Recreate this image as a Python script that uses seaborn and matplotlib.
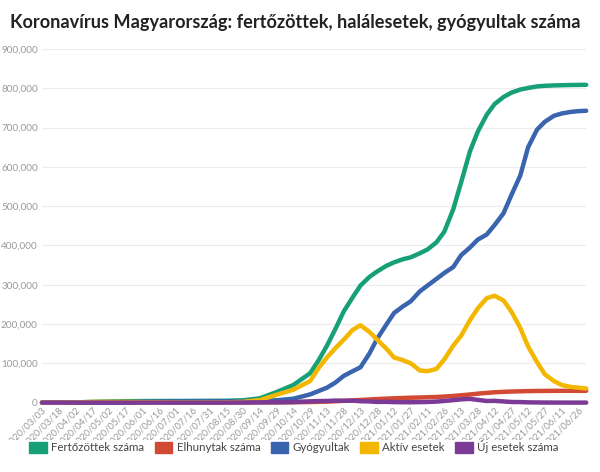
import pandas as pd
import seaborn as sns
import matplotlib.pyplot as plt
import matplotlib.ticker as mticker
from matplotlib.patches import Patch
from matplotlib.transforms import Bbox, TransformedBbox

# Dates (irregular spacing, denser in the busy period)
dates = ["2020-03-03", "2020-03-18", "2020-04-02", "2020-04-17", "2020-05-02", "2020-05-17",
         "2020-06-01", "2020-06-16", "2020-07-01", "2020-07-16", "2020-07-31", "2020-08-15",
         "2020-08-30", "2020-09-14", "2020-09-29", "2020-10-14", "2020-10-29", "2020-11-06",
         "2020-11-13", "2020-11-21", "2020-11-28", "2020-12-06", "2020-12-13", "2020-12-21",
         "2020-12-28", "2021-01-05", "2021-01-12", "2021-01-20", "2021-01-27", "2021-02-04",
         "2021-02-11", "2021-02-19", "2021-02-26", "2021-03-06", "2021-03-13", "2021-03-21",
         "2021-03-28", "2021-04-05", "2021-04-12", "2021-04-20", "2021-04-27", "2021-05-05",
         "2021-05-12", "2021-05-20", "2021-05-27", "2021-06-04", "2021-06-11", "2021-06-19",
         "2021-06-26", "2021-07-03"]

fertozottek = [0, 50, 600, 1900, 3000, 3600, 3900, 4100, 4200, 4400, 4600, 4800,
               6000, 11000, 27000, 45000, 75000, 110000, 145000, 190000, 232000, 268000,
               298000, 320000, 334000, 348000, 357000, 365000, 370000, 380000, 390000,
               408000, 435000, 492000, 560000, 640000, 690000, 733000, 760000, 778000,
               789000, 797000, 801000, 805000, 806500, 807500, 808000, 808500, 808800, 809000]

elhunytak = [0, 0, 20, 140, 310, 440, 530, 570, 590, 600, 600, 610,
             630, 660, 770, 1000, 1500, 2000, 2600, 3600, 4600, 5700,
             6800, 8000, 9100, 10100, 11000, 11800, 12500, 13100, 13700,
             14400, 15400, 17000, 18700, 20700, 22800, 24800, 26300, 27500,
             28200, 28800, 29300, 29600, 29800, 29900, 30000, 30000, 30000, 30000]

gyogyultak = [0, 0, 30, 200, 600, 1200, 2200, 2700, 2900, 3100, 3300, 3400,
              3600, 4200, 6000, 10000, 21000, 30000, 38000, 52000, 68000, 80000,
              90000, 125000, 163000, 198000, 228000, 245000, 258000, 283000, 298000,
              315000, 330000, 345000, 375000, 395000, 415000, 428000, 452000, 482000,
              528000, 578000, 650000, 695000, 715000, 730000, 736000, 740000, 742000, 743000]

aktiv = [0, 50, 550, 1600, 2000, 1800, 1300, 1000, 700, 600, 650, 800,
         2000, 6500, 20000, 33000, 55000, 90000, 115000, 140000, 160000, 185000,
         197000, 180000, 160000, 138000, 115000, 108000, 100000, 82000, 80000,
         86000, 110000, 145000, 170000, 210000, 240000, 266000, 272000, 260000,
         232000, 190000, 143000, 103000, 72000, 55000, 45000, 40000, 38000, 36000]

uj_esetek = [2, 15, 60, 80, 50, 30, 20, 10, 5, 15, 20, 30,
             290, 720, 900, 1500, 3200, 4000, 4200, 5200, 4500, 5000,
             3500, 3000, 1700, 2000, 1300, 1000, 900, 1300, 1600,
             2600, 4200, 6300, 8300, 9500, 7000, 4100, 4500, 3000,
             1600, 1400, 700, 400, 200, 120, 60, 50, 40, 60]

series_names = ["Fertőzöttek száma", "Elhunytak száma", "Gyógyultak", "Aktív esetek", "Új esetek száma"]
colors = ["#17a077", "#d24a33", "#3a64ae", "#f4b700", "#7b3a96"]

frames = []
for name, vals in zip(series_names, [fertozottek, elhunytak, gyogyultak, aktiv, uj_esetek]):
    frames.append(pd.DataFrame({"datum": pd.to_datetime(dates), "ertek": vals, "sorozat": name}))
df = pd.concat(frames, ignore_index=True)

sns.set_style("white")
plt.rcParams["font.family"] = ["Lato", "DejaVu Sans"]

fig = plt.figure(figsize=(6, 4.72), dpi=100)
ax = fig.add_axes([0.07, 0.147, 0.907, 0.749])

ax.yaxis.grid(True, color="#ececec", linewidth=0.8)
ax.set_axisbelow(True)

sns.lineplot(data=df, x="datum", y="ertek", hue="sorozat", hue_order=series_names,
             palette=colors, linewidth=3.2, ax=ax, legend=False,
             solid_capstyle="round", solid_joinstyle="round", clip_on=False)

# axes limits and ticks
start = pd.Timestamp("2020-03-03")
end = pd.Timestamp("2021-07-03")
ax.set_xlim(start, end)
ax.set_ylim(0, 900000)
ax.set_yticks(range(0, 900001, 100000))
ax.yaxis.set_major_formatter(mticker.FuncFormatter(lambda v, p: f"{int(v):,}"))
tick_dates = pd.date_range(start, end, freq="15D")
ax.set_xticks(tick_dates)
ax.set_xticklabels([d.strftime("%Y/%m/%d") for d in tick_dates], rotation=45,
                   ha="right", rotation_mode="anchor")
ax.tick_params(axis="y", labelsize=7.2, labelcolor="#9a9a9a", length=0, pad=3)
ax.tick_params(axis="x", labelsize=6.9, labelcolor="#9a9a9a", length=0, pad=2)
ax.set_xlabel("")
ax.set_ylabel("")
for s in ax.spines.values():
    s.set_visible(False)

# the date labels are cut off just above the legend, like in the original
label_clip = TransformedBbox(Bbox([[0, 32 / 472], [1, 1]]), fig.transFigure)
for lab in ax.get_xticklabels():
    lab.set_clip_on(True)
    lab.set_clip_box(label_clip)

fig.text(0.017, 0.953, "Koronavírus Magyarország: fertőzöttek, halálesetek, gyógyultak száma",
         fontsize=13.1, fontweight="bold", color="#222222", va="center")

handles = [Patch(facecolor=c, edgecolor=c, label=n) for n, c in zip(series_names, colors)]
leg = fig.legend(handles=handles, loc="center", bbox_to_anchor=(0.49, 0.053), ncol=5,
                 frameon=False, fontsize=8.3, handlelength=1.5, handleheight=1.0,
                 handletextpad=0.4, columnspacing=0.9)
for t in leg.get_texts():
    t.set_color("#444444")

fig.savefig("out.png", dpi=100)
